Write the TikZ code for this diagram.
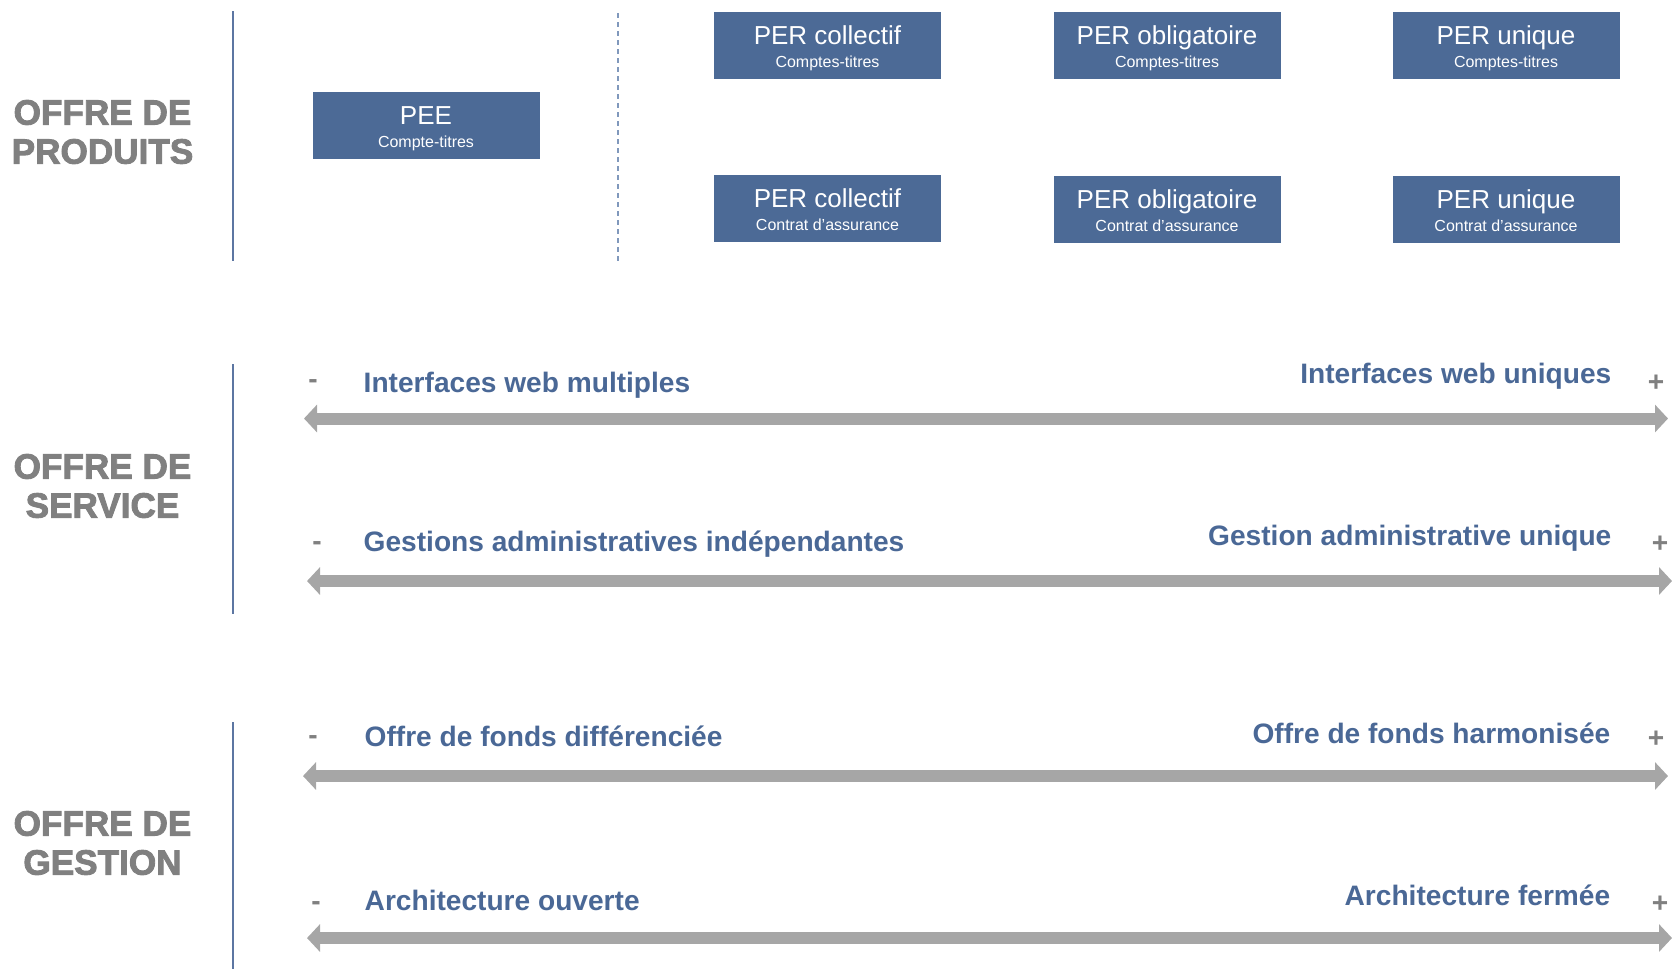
\documentclass[tikz,border=0pt]{standalone}
\usepackage{fontspec}
\setmainfont{Liberation Sans}
\newfontface\heavyfont{Liberation Sans Bold}[FakeBold=2.5]
\usepackage{xcolor}
\usepackage{tikz}
\usetikzlibrary{positioning, arrows.meta}

\definecolor{boxblue}{RGB}{76,106,150}
\definecolor{txtblue}{RGB}{74,104,150}
\definecolor{headgray}{RGB}{128,128,128}
\definecolor{arrowgray}{RGB}{166,166,166}
\definecolor{lineblue}{RGB}{92,118,162}
\definecolor{dashblue}{RGB}{128,152,188}

\newcommand{\boxtitle}[1]{{\fontsize{7.4}{6.5}\selectfont #1}}
\newcommand{\boxsub}[1]{{\fontsize{4.55}{6.5}\selectfont #1}}

\tikzset{
    prodbox/.style={fill=boxblue, text=white, inner sep=0pt, align=center,
        minimum width=2.27cm, minimum height=0.67cm,
        text height=0.55cm, text depth=0.12cm, font=\fontsize{7.4}{6.5}\selectfont},
    heading/.style={text=headgray, align=center, font={\heavyfont\fontsize{10}{11.1}\selectfont}},
    leftlabel/.style={anchor=base west, inner sep=0pt, text=txtblue, font=\bfseries\fontsize{8}{9}\selectfont},
    rightlabel/.style={anchor=base east, inner sep=0pt, text=txtblue, font=\bfseries\fontsize{8}{9}\selectfont},
    sign/.style={anchor=base, text=headgray, font=\bfseries\fontsize{8}{9}\selectfont},
    scalearrow/.style={draw=arrowgray, line width=0.12cm,
        {Triangle[length=0.13cm, width=0.27cm]}-{Triangle[length=0.13cm, width=0.27cm]}},
    sepline/.style={draw=lineblue, line width=0.016cm},
}

\begin{document}
\begin{tikzpicture}
    \useasboundingbox (0,0) rectangle (16.75,-9.69);

    % Section headings
    \node[heading] (prodhead) at (1.025,-1.32) {OFFRE DE\\PRODUITS};
    \node[heading] (servhead) at (1.025,-4.86) {OFFRE DE\\SERVICE};
    \node[heading] (gesthead) at (1.025,-8.43) {OFFRE DE\\GESTION};

    % Separators
    \coordinate (sep1t) at (2.33,-0.11);  \coordinate (sep1b) at (2.33,-2.61);
    \coordinate (sep2t) at (2.33,-3.64);  \coordinate (sep2b) at (2.33,-6.14);
    \coordinate (sep3t) at (2.33,-7.22);  \coordinate (sep3b) at (2.33,-9.69);
    \coordinate (dasht) at (6.175,-0.13); \coordinate (dashb) at (6.175,-2.62);
    \draw[sepline] (sep1t) -- (sep1b);
    \draw[sepline] (sep2t) -- (sep2b);
    \draw[sepline] (sep3t) -- (sep3b);
    \draw[draw=dashblue, line width=0.02cm, dash pattern=on 0.05cm off 0.04cm] (dasht) -- (dashb);

    % Products
    \node[prodbox] (pee) at (4.26,-1.255) {\boxtitle{PEE}\\\boxsub{Compte-titres}};
    \node[prodbox] (colct) at (8.275,-0.455) {\boxtitle{PER collectif}\\\boxsub{Comptes-titres}};
    \node[prodbox] (oblct) at (11.67,-0.455) {\boxtitle{PER obligatoire}\\\boxsub{Comptes-titres}};
    \node[prodbox] (unict) at (15.06,-0.455) {\boxtitle{PER unique}\\\boxsub{Comptes-titres}};
    \node[prodbox] (colca) at (8.275,-2.085) {\boxtitle{PER collectif}\\\boxsub{Contrat d’assurance}};
    \node[prodbox] (oblca) at (11.67,-2.095) {\boxtitle{PER obligatoire}\\\boxsub{Contrat d’assurance}};
    \node[prodbox] (unica) at (15.06,-2.095) {\boxtitle{PER unique}\\\boxsub{Contrat d’assurance}};

    % Service scales
    \node[leftlabel] (webl) at (3.63,-3.92) {Interfaces web multiples};
    \node[rightlabel] (webr) at (16.12,-3.83) {Interfaces web uniques};
    \node[sign] (webm) at (3.13,-3.88) {-};
    \node[sign] (webp) at (16.56,-3.91) {+};
    \coordinate (web1) at (3.04,-4.185); \coordinate (web2) at (16.68,-4.185);
    \draw[scalearrow] (web1) -- (web2);

    \node[leftlabel] (adml) at (3.63,-5.51) {Gestions administratives indépendantes};
    \node[rightlabel] (admr) at (16.12,-5.45) {Gestion administrative unique};
    \node[sign] (admm) at (3.17,-5.50) {-};
    \node[sign] (admp) at (16.60,-5.52) {+};
    \coordinate (adm1) at (3.07,-5.81); \coordinate (adm2) at (16.72,-5.81);
    \draw[scalearrow] (adm1) -- (adm2);

    % Management scales
    \node[leftlabel] (fdsl) at (3.64,-7.46) {Offre de fonds différenciée};
    \node[rightlabel] (fdsr) at (16.11,-7.43) {Offre de fonds harmonisée};
    \node[sign] (fdsm) at (3.13,-7.44) {-};
    \node[sign] (fdsp) at (16.56,-7.47) {+};
    \coordinate (fds1) at (3.03,-7.76); \coordinate (fds2) at (16.68,-7.76);
    \draw[scalearrow] (fds1) -- (fds2);

    \node[leftlabel] (arcl) at (3.64,-9.10) {Architecture ouverte};
    \node[rightlabel] (arcr) at (16.11,-9.05) {Architecture fermée};
    \node[sign] (arcm) at (3.16,-9.10) {-};
    \node[sign] (arcp) at (16.60,-9.12) {+};
    \coordinate (arc1) at (3.07,-9.38); \coordinate (arc2) at (16.72,-9.38);
    \draw[scalearrow] (arc1) -- (arc2);
\end{tikzpicture}
\end{document}
